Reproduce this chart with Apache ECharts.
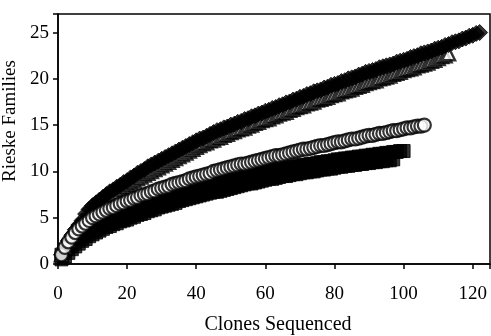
<!DOCTYPE html>
<html>
<head>
<meta charset="utf-8">
<style>
  html, body { margin: 0; padding: 0; background: #fff; }
  #chart { width: 491px; height: 336px; }
</style>
<script src="https://cdn.jsdelivr.net/npm/echarts@6/dist/echarts.min.js"></script>
</head>
<body>
<div id="chart"></div>
<script>
// Rieske families found vs. clones sequenced, one point per clone (x = 1, 2, 3 ...)
const diamondValues = [
  1.0, 1.8, 2.5, 3.1, 3.7, 4.2, 4.7, 5.4, 5.9, 6.3,
  6.6, 6.9, 7.2, 7.5, 7.8, 8.0, 8.3, 8.5, 8.8, 9.0,
  9.3, 9.5, 9.8, 10.0, 10.2, 10.5, 10.7, 10.9, 11.1, 11.3,
  11.5, 11.7, 11.9, 12.1, 12.3, 12.5, 12.7, 12.9, 13.1, 13.3,
  13.5, 13.6, 13.8, 14.0, 14.2, 14.4, 14.5, 14.7, 14.8, 15.0,
  15.1, 15.3, 15.4, 15.6, 15.7, 15.9, 16.0, 16.2, 16.3, 16.5,
  16.6, 16.8, 16.9, 17.1, 17.2, 17.4, 17.5, 17.7, 17.8, 18.0,
  18.1, 18.3, 18.4, 18.6, 18.7, 18.8, 19.0, 19.1, 19.3, 19.4,
  19.5, 19.7, 19.8, 20.0, 20.1, 20.2, 20.4, 20.5, 20.7, 20.8,
  20.9, 21.0, 21.2, 21.3, 21.4, 21.5, 21.6, 21.8, 21.9, 22.0,
  22.1, 22.3, 22.4, 22.5, 22.7, 22.8, 22.9, 23.0, 23.2, 23.3,
  23.4, 23.6, 23.7, 23.9, 24.0, 24.1, 24.3, 24.4, 24.6, 24.7,
  24.9, 25.0
];

const triangleValues = [
  1.0, 1.8, 2.5, 3.1, 3.6, 4.1, 4.5, 5.0, 5.5, 6.0,
  6.3, 6.6, 6.9, 7.2, 7.5, 7.7, 8.0, 8.2, 8.4, 8.6,
  8.8, 9.0, 9.2, 9.4, 9.6, 9.8, 10.0, 10.2, 10.4, 10.6,
  10.8, 11.0, 11.2, 11.4, 11.6, 11.8, 12.0, 12.2, 12.4, 12.6,
  12.8, 13.0, 13.1, 13.3, 13.4, 13.6, 13.7, 13.9, 14.0, 14.2,
  14.3, 14.5, 14.6, 14.7, 14.9, 15.0, 15.2, 15.3, 15.5, 15.6,
  15.7, 15.9, 16.0, 16.2, 16.3, 16.4, 16.6, 16.7, 16.9, 17.0,
  17.1, 17.3, 17.4, 17.5, 17.7, 17.8, 17.9, 18.0, 18.2, 18.3,
  18.4, 18.6, 18.7, 18.8, 18.9, 19.1, 19.2, 19.3, 19.5, 19.6,
  19.7, 19.8, 20.0, 20.1, 20.2, 20.3, 20.5, 20.6, 20.7, 20.9,
  21.0, 21.1, 21.2, 21.4, 21.5, 21.6, 21.7, 21.9, 22.0, 22.2,
  22.4, 22.5, 22.7
];

const circleValues = [
  1.0, 1.8, 2.4, 2.9, 3.4, 3.8, 4.1, 4.4, 4.7, 5.0,
  5.2, 5.4, 5.6, 5.8, 6.0, 6.1, 6.3, 6.5, 6.6, 6.8,
  6.9, 7.1, 7.2, 7.4, 7.5, 7.6, 7.8, 7.9, 8.1, 8.2,
  8.3, 8.4, 8.6, 8.7, 8.8, 8.9, 9.0, 9.2, 9.3, 9.4,
  9.5, 9.6, 9.7, 9.8, 10.0, 10.1, 10.2, 10.3, 10.4, 10.5,
  10.6, 10.7, 10.8, 10.8, 10.9, 11.0, 11.1, 11.2, 11.3, 11.4,
  11.5, 11.6, 11.7, 11.7, 11.8, 11.9, 12.0, 12.1, 12.2, 12.3,
  12.4, 12.4, 12.5, 12.6, 12.7, 12.8, 12.8, 12.9, 13.0, 13.1,
  13.2, 13.2, 13.3, 13.4, 13.5, 13.5, 13.6, 13.7, 13.8, 13.9,
  13.9, 14.0, 14.1, 14.1, 14.2, 14.3, 14.4, 14.4, 14.5, 14.6,
  14.7, 14.7, 14.8, 14.9, 14.9, 15.0
];

const squareValues = [
  1.0, 1.5, 1.9, 2.3, 2.7, 3.0, 3.3, 3.5, 3.8, 4.0,
  4.2, 4.4, 4.6, 4.8, 4.9, 5.1, 5.2, 5.4, 5.5, 5.6,
  5.8, 5.9, 6.1, 6.2, 6.3, 6.5, 6.6, 6.7, 6.9, 7.0,
  7.1, 7.2, 7.3, 7.4, 7.6, 7.7, 7.8, 7.9, 8.0, 8.1,
  8.2, 8.3, 8.4, 8.5, 8.6, 8.6, 8.7, 8.8, 8.9, 9.0,
  9.1, 9.2, 9.3, 9.4, 9.5, 9.5, 9.6, 9.7, 9.8, 9.9,
  10.0, 10.0, 10.1, 10.2, 10.3, 10.3, 10.4, 10.5, 10.5, 10.6,
  10.7, 10.7, 10.8, 10.8, 10.9, 11.0, 11.0, 11.1, 11.1, 11.2,
  11.3, 11.3, 11.4, 11.4, 11.5, 11.5, 11.6, 11.6, 11.7, 11.7,
  11.8, 11.8, 11.9, 11.9, 12.0, 12.0, 12.1, 12.1, 12.2, 12.2
];

// filled series mostly hidden under the squares (lower edge of the black band)
const lowerValues = [
  0.5, 0.8, 1.2, 1.6, 1.9, 2.2, 2.5, 2.7, 3.0, 3.2,
  3.4, 3.6, 3.8, 4.0, 4.1, 4.3, 4.4, 4.6, 4.7, 4.8,
  5.0, 5.1, 5.3, 5.4, 5.5, 5.7, 5.8, 5.9, 6.1, 6.2,
  6.3, 6.4, 6.5, 6.6, 6.8, 6.9, 7.0, 7.1, 7.2, 7.3,
  7.4, 7.5, 7.6, 7.7, 7.8, 7.8, 7.9, 8.0, 8.1, 8.2,
  8.3, 8.4, 8.5, 8.6, 8.7, 8.7, 8.8, 8.9, 9.0, 9.1,
  9.2, 9.2, 9.3, 9.4, 9.5, 9.5, 9.6, 9.7, 9.7, 9.8,
  9.9, 9.9, 10.0, 10.0, 10.1, 10.2, 10.2, 10.3, 10.3, 10.4,
  10.5, 10.5, 10.6, 10.6, 10.7, 10.7, 10.8, 10.8, 10.9, 10.9,
  11.0, 11.0, 11.1, 11.1, 11.2, 11.2, 11.3
];

const xTicks = [0, 20, 40, 60, 80, 100, 120];
const yTicks = [0, 5, 10, 15, 20, 25];

const toPoints = (vals) => vals.map((v, i) => [i + 1, v]);

const chart = echarts.init(document.getElementById('chart'), null, { renderer: 'canvas' });
const font = '"Liberation Serif", "Times New Roman", serif';

const axisCommon = {
  type: 'value',
  splitLine: { show: false },
  axisLine: { show: true, lineStyle: { color: '#000', width: 1.5 } },
  axisTick: { show: true, inside: false, length: 5, lineStyle: { color: '#000', width: 1.5 } }
};

// solid black marks get a thin black edge so neighbouring squares close up
const solid = { color: '#000', borderColor: '#000', borderWidth: 1 };

chart.setOption({
  animation: false,
  backgroundColor: '#fff',
  grid: {
    left: 58, right: 1, top: 14, bottom: 72,
    outerBoundsMode: 'none',
    containLabel: false,
    show: true, borderColor: '#000', borderWidth: 1.5
  },
  xAxis: Object.assign({}, axisCommon, {
    min: 0, max: 125, interval: 20,
    name: 'Clones Sequenced', nameLocation: 'middle', nameGap: 51,
    nameTextStyle: { color: '#000', fontFamily: font, fontSize: 20, padding: [0, 0, 0, 8] },
    axisLabel: {
      color: '#000', fontFamily: font, fontSize: 19, margin: 21,
      formatter: (v) => (xTicks.includes(v) ? String(v) : '')
    }
  }),
  yAxis: Object.assign({}, axisCommon, {
    min: 0, max: 27, interval: 5,
    name: 'Rieske Families', nameLocation: 'middle', nameGap: 33,
    nameTextStyle: { color: '#000', fontFamily: font, fontSize: 19, padding: [0, 0, 0, 36] },
    axisLabel: {
      color: '#000', fontFamily: font, fontSize: 19, margin: 9,
      formatter: (v) => (yTicks.includes(v) ? String(v) : '')
    }
  }),
  series: [
    {
      name: 'lower', type: 'scatter', symbol: 'rect', symbolSize: 13,
      itemStyle: solid, data: toPoints(lowerValues)
    },
    {
      name: 'squares', type: 'scatter', symbol: 'rect', symbolSize: 13,
      itemStyle: solid, data: toPoints(squareValues)
    },
    {
      name: 'triangles', type: 'scatter', symbol: 'triangle', symbolSize: 13,
      itemStyle: { color: '#fff', borderColor: '#000', borderWidth: 2.5 },
      data: toPoints(triangleValues)
    },
    {
      name: 'diamonds', type: 'scatter', symbol: 'diamond', symbolSize: 16,
      itemStyle: solid, data: toPoints(diamondValues)
    },
    {
      name: 'circles', type: 'scatter', symbol: 'circle', symbolSize: 13,
      itemStyle: { color: '#fff', borderColor: '#000', borderWidth: 2.2 },
      data: toPoints(circleValues)
    }
  ]
});
</script>
</body>
</html>
